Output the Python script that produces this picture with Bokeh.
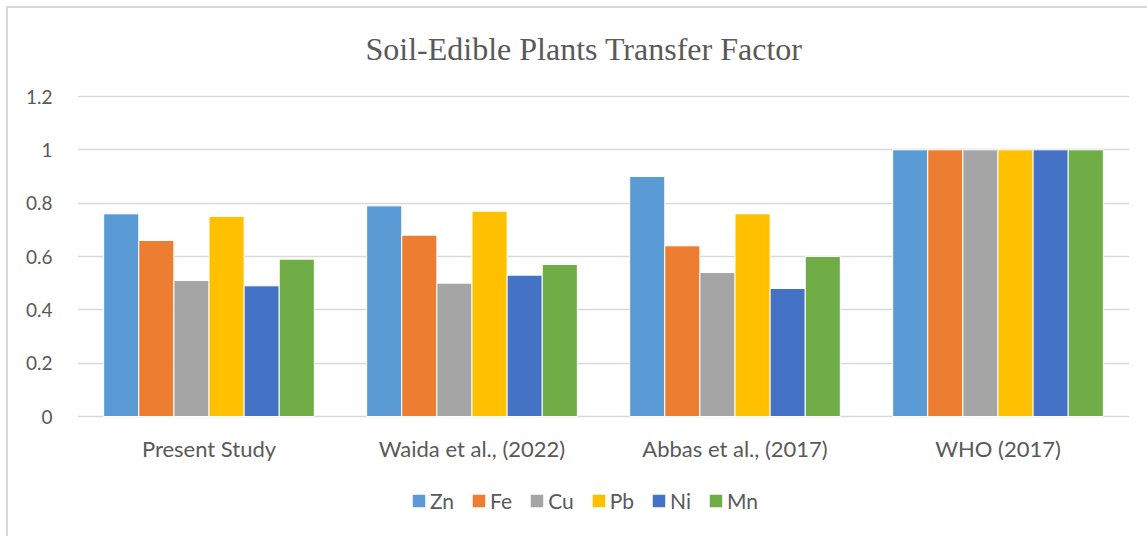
from bokeh.plotting import figure
from bokeh.models import FactorRange, Range1d, FixedTicker, CustomJSTickFormatter, Legend, LegendItem, ColumnDataSource
from bokeh.transform import dodge
from bokeh.core.properties import value
from bokeh.embed import file_html
from bokeh.resources import INLINE

groups = ["Present Study", "Waida et al., (2022)", "Abbas et al., (2017)", "WHO (2017)"]
metals = ["Zn", "Fe", "Cu", "Pb", "Ni", "Mn"]
zn = [0.76, 0.79, 0.90, 1.0]
fe = [0.66, 0.68, 0.64, 1.0]
cu = [0.51, 0.50, 0.54, 1.0]
pb = [0.75, 0.77, 0.76, 1.0]
ni = [0.49, 0.53, 0.48, 1.0]
mn = [0.59, 0.57, 0.60, 1.0]
y_ticks = [0, 0.2, 0.4, 0.6, 0.8, 1.0, 1.2]
colors = ["#5B9BD5", "#ED7D31", "#A5A5A5", "#FFC000", "#4472C4", "#70AD47"]

source = ColumnDataSource(dict(group=groups, Zn=zn, Fe=fe, Cu=cu, Pb=pb, Ni=ni, Mn=mn))

TXT = "#595959"
FONT = "Lato"

# frame spans the plot area plus the space for category labels and legend
p = figure(width=1147, height=536, output_backend="svg", toolbar_location=None,
           x_range=FactorRange(*groups), y_range=Range1d(-0.4275, 1.20375),
           min_border_left=77, min_border_right=18, min_border_top=95, min_border_bottom=6)
p.styles = {"box-shadow": "inset 6px 6px 0 0 white, inset 8px 8px 0 0 #D9D9D9"}

p.title.text = "Soil-Edible Plants Transfer Factor"
p.title.text_font = "Liberation Serif"
p.title.text_font_size = "32px"
p.title.text_font_style = "normal"
p.title.text_color = TXT
p.title.align = "left"
p.title.vertical_align = "middle"
p.title.offset = 288
p.title.standoff = 56

bw = 0.1335
items = []
for i, m in enumerate(metals):
    r = p.vbar(x=dodge("group", (i - 2.5) * bw, range=p.x_range), top=m, width=bw,
               source=source, fill_color=colors[i], line_color="white", line_width=1)
    items.append(LegendItem(label=m, renderers=[r]))

# category labels
p.text(x=groups, y=[-0.12] * len(groups), text=groups, text_align="center", text_baseline="middle",
       text_font=value(FONT), text_font_size="22px", text_color=TXT)

p.outline_line_color = None
p.background_fill_color = "white"
p.border_fill_color = None

p.xaxis.visible = False
p.xgrid.grid_line_color = None
p.ygrid.grid_line_color = "#D9D9D9"
p.ygrid.grid_line_width = 1.5
p.yaxis.ticker = FixedTicker(ticks=y_ticks)
p.yaxis.formatter = CustomJSTickFormatter(code="return String(Number(tick.toFixed(2)));")
p.yaxis.axis_line_color = None
p.yaxis.major_tick_line_color = None
p.yaxis.minor_tick_line_color = None
p.yaxis.major_label_text_font = FONT
p.yaxis.major_label_text_font_size = "19px"
p.yaxis.major_label_text_color = TXT
p.yaxis.major_label_standoff = 19

legend = Legend(items=items, orientation="horizontal", location=(333, 17),
                glyph_width=17, glyph_height=17, label_standoff=3, spacing=16,
                label_text_font=FONT, label_text_font_size="21px", label_text_color=TXT,
                border_line_color=None, background_fill_alpha=0, padding=4, margin=0)
p.add_layout(legend)

open("out.html", "w").write(file_html(p, INLINE))
